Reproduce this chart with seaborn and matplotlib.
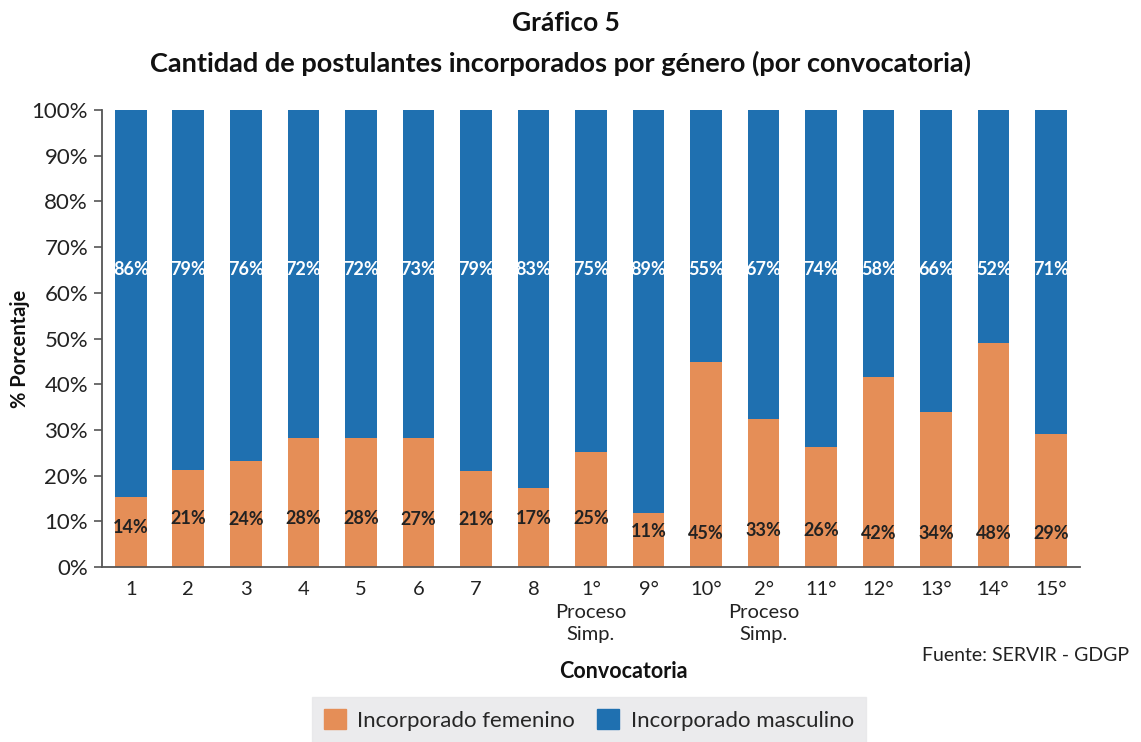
import numpy as np
import pandas as pd
import matplotlib
matplotlib.use('Agg')
import matplotlib.pyplot as plt
import seaborn as sns
from matplotlib.patches import Patch

convocatorias = ['1', '2', '3', '4', '5', '6', '7', '8', '1°\nProceso\nSimp.', '9°', '10°',
                 '2°\nProceso\nSimp.', '11°', '12°', '13°', '14°', '15°']
femenino_barra = [15.3, 21.2, 23.2, 28.2, 28.2, 28.2, 21.0, 17.3, 25.2, 11.8, 44.9,
                  32.4, 26.3, 41.6, 33.9, 49.0, 29.1]
femenino_etiqueta = [14, 21, 24, 28, 28, 27, 21, 17, 25, 11, 45, 33, 26, 42, 34, 48, 29]
masculino_etiqueta = [86, 79, 76, 72, 72, 73, 79, 83, 75, 89, 55, 67, 74, 58, 66, 52, 71]

# altura (en %) donde va el texto del tramo femenino, como en el original
y_texto_fem = [8.7, 10.7, 10.5, 10.7, 10.7, 10.3, 10.5, 10.7, 10.7,
               7.7, 7.4, 7.9, 7.9, 7.4, 7.4, 7.4, 7.4]

NARANJA = '#E58E57'
AZUL = '#1F70B0'

sns.set_style('white')
plt.rcParams['font.family'] = ['Lato', 'DejaVu Sans']

df = pd.DataFrame({'conv': convocatorias, 'fem': femenino_barra, 'total': [100] * len(convocatorias)})

fig = plt.figure(figsize=(11.41, 7.42), dpi=100)
ax = fig.add_axes([0.0894, 0.2358, 0.8571, 0.616])

sns.barplot(data=df, x='conv', y='total', color=AZUL, width=0.55, saturation=1, linewidth=0, ax=ax)
sns.barplot(data=df, x='conv', y='fem', color=NARANJA, width=0.55, saturation=1, linewidth=0, ax=ax)

for i in range(len(convocatorias)):
    ax.text(i, y_texto_fem[i], f'{femenino_etiqueta[i]}%', ha='center', va='center', fontsize=13,
            fontweight='bold', color='#222222')
    ax.text(i, 65.2, f'{masculino_etiqueta[i]}%', ha='center', va='center', fontsize=13,
            fontweight='bold', color='white')

ax.set_xlim(-0.5, len(convocatorias) - 0.5)
ax.set_ylim(0, 100)
ax.set_yticks(np.arange(0, 101, 10))
ax.set_yticklabels([f'{v}%' for v in range(0, 101, 10)], fontsize=16, color='#222222')

# etiquetas en el centro, marcas entre barras
ax.set_xticks(np.arange(len(convocatorias) + 1) - 0.5)
ax.set_xticklabels([])
ax.set_xticks(np.arange(len(convocatorias)), minor=True)
ax.set_xticklabels(convocatorias, minor=True, fontsize=14.5, color='#222222', va='top',
                   linespacing=1.4)
ax.tick_params(axis='x', which='major', length=8, width=1.2, color='#555555', direction='out')
ax.tick_params(axis='x', which='minor', length=0, pad=10)
ax.tick_params(axis='y', length=6, width=1.2, color='#555555', direction='out', left=True, pad=4)

for s in ['top', 'right']:
    ax.spines[s].set_visible(False)
for s in ['left', 'bottom']:
    ax.spines[s].set_color('#555555')
    ax.spines[s].set_linewidth(1.3)

ax.set_xlabel('')
ax.set_ylabel('')
fig.text(623 / 1141, 1 - 672 / 742, 'Convocatoria', ha='center', va='center', fontsize=15.5,
         fontweight='bold', color='#111111')
fig.text(20 / 1141, 1 - 349 / 742, '% Porcentaje', rotation=90, ha='center',
         va='center', fontsize=14.5, fontweight='bold', color='#111111')

fig.text(0.496, 0.969, 'Gráfico 5', ha='center', va='center', fontsize=19, fontweight='bold',
         color='#111111')
fig.text(0.491, 0.914, 'Cantidad de postulantes incorporados por género (por convocatoria)',
         ha='center', va='center', fontsize=19.5, fontweight='bold', color='#111111')
fig.text(0.99, 0.117, 'Fuente: SERVIR - GDGP', ha='right', va='center', fontsize=14, color='#222222')

handles = [Patch(color=NARANJA, label='Incorporado femenino'),
           Patch(color=AZUL, label='Incorporado masculino')]
leg = fig.legend(handles=handles, loc='center', bbox_to_anchor=(0.516, 0.030), ncol=2,
                 fontsize=16, frameon=True, fancybox=False, handlelength=1.0, handleheight=1.0,
                 handletextpad=0.5, columnspacing=1.0, borderpad=0.55)
leg.get_frame().set_facecolor('#E6E7E9')
leg.get_frame().set_edgecolor('#E6E7E9')

fig.savefig('out.png', dpi=100)
